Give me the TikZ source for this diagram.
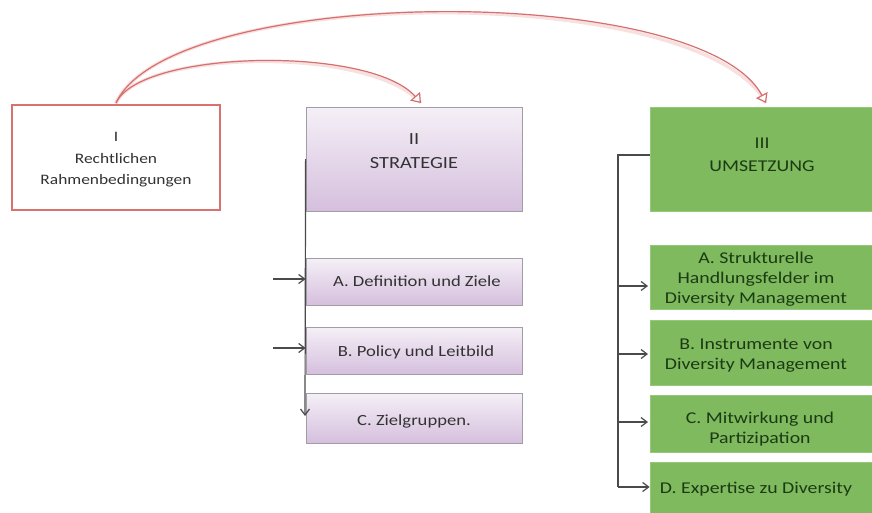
\documentclass[tikz,border=0pt]{standalone}
\usepackage{fontspec}
\setmainfont{Carlito}[FakeStretch=1.2]
\usetikzlibrary{arrows.meta}

\definecolor{linkred}{HTML}{D4706E}
\definecolor{linkglow}{HTML}{F9E0E0}
\definecolor{legalred}{HTML}{D9716F}
\definecolor{lilactop}{HTML}{F5F0F7}
\definecolor{lilacbot}{HTML}{D5BFDD}
\definecolor{lilacedge}{HTML}{A29CA6}
\definecolor{leafgreen}{HTML}{7FBA5E}
\definecolor{leafedge}{HTML}{95C878}
\definecolor{leaftext}{HTML}{1C3A14}
\definecolor{inkgray}{HTML}{333333}
\definecolor{wiregray}{HTML}{4A4A4A}

\tikzset{
  legalbox/.style={draw=legalred, line width=1.6pt, fill=white, inner sep=0pt},
  stratbox/.style={draw=lilacedge, line width=0.8pt, top color=lilactop,
    bottom color=lilacbot, inner sep=0pt},
  actbox/.style={draw=leafedge, line width=0.8pt, fill=leafgreen, inner sep=0pt},
  graytext/.style={text=inkgray, align=center, inner sep=0pt},
  greentext/.style={text=leaftext, align=center, inner sep=0pt},
  wire/.style={draw=wiregray, line width=1.2pt},
  wirearrow/.style={wire, -{Straight Barb[length=6pt,width=9pt]}},
  glow/.style={draw=linkglow, line width=3.5pt},
  link/.style={draw=linkred, line width=1.2pt},
  linktip/.style={-{Triangle[open,length=9pt,width=13pt,fill=white]}},
}

\begin{document}
\begin{tikzpicture}[x=1pt,y=-1pt]
\useasboundingbox (0,0) rectangle (872,512);
\fill[white] (0,0) rectangle (872,512);

% ---- I: legal framework
\node[legalbox, minimum width=208pt, minimum height=105pt] (legal) at (116,157.5) {};
\node[graytext, font=\fontsize{14.5}{21.5}\selectfont] (legaltxt) at (116,160)
  {I\\Rechtlichen\\Rahmenbedingungen};

% ---- II: strategy column
\node[stratbox, minimum width=216pt, minimum height=104pt] (strat) at (414,159) {};
\node[graytext, font=\fontsize{17}{24}\selectfont] (strattxt) at (414,151) {II\\STRATEGIE};

\node[stratbox, minimum width=216pt, minimum height=47pt] (sA) at (414,281.5) {};
\node[stratbox, minimum width=216pt, minimum height=47pt] (sB) at (414,350.5) {};
\node[stratbox, minimum width=216pt, minimum height=50pt] (sC) at (414,418) {};
\node[graytext, font=\fontsize{15.5}{20}\selectfont] (sAtxt) at (417,281) {A. Definition und Ziele};
\node[graytext, font=\fontsize{15.5}{20}\selectfont] (sBtxt) at (416,352) {B. Policy und Leitbild};
\node[graytext, font=\fontsize{15.5}{20}\selectfont] (sCtxt) at (414,421) {C. Zielgruppen.};

% ---- III: implementation column
\node[actbox, minimum width=224pt, minimum height=104pt] (act) at (762,159) {};
\node[greentext, font=\fontsize{16.5}{23}\selectfont] (acttxt) at (762,155) {III\\UMSETZUNG};

\node[actbox, minimum width=224pt, minimum height=64pt] (aA) at (762,277) {};
\node[actbox, minimum width=224pt, minimum height=65pt] (aB) at (762,352.5) {};
\node[actbox, minimum width=224pt, minimum height=57pt] (aC) at (762,423.5) {};
\node[actbox, minimum width=224pt, minimum height=56pt] (aD) at (762,490) {};
\node[greentext, font=\fontsize{16.5}{20}\selectfont] (aAtxt) at (756,279)
  {A. Strukturelle\\Handlungsfelder im\\Diversity Management};
\node[greentext, font=\fontsize{16.5}{20}\selectfont] (aBtxt) at (756,356)
  {B. Instrumente von\\Diversity Management};
\node[greentext, font=\fontsize{16.5}{20}\selectfont] (aCtxt) at (760,429)
  {C. Mitwirkung und\\Partizipation};
\node[greentext, font=\fontsize{16.5}{20}\selectfont] (aDtxt) at (756,489)
  {D. Expertise zu Diversity};

% ---- connectors of the strategy column
\coordinate (sdown) at (305,416);
\coordinate (sinA) at (273,279);
\coordinate (sinB) at (273,348);
\draw[wirearrow] (strat.west) -- (sdown);
\draw[wirearrow] (sinA) -- (sinA -| strat.west);
\draw[wirearrow] (sinB) -- (sinB -| strat.west);

% ---- connectors of the implementation column
\coordinate (aout) at (650,155);
\coordinate (atop) at (618,155);
\coordinate (abot) at (618,487);
\draw[wire] (aout) -- (atop) -- (abot);
\draw[wirearrow] (abot) -- (abot -| aD.west);
\draw[wirearrow] (618,286) -- (648,286);
\draw[wirearrow] (618,354) -- (648,354);
\draw[wirearrow] (618,422) -- (648,422);

% ---- curved links from I to II and III
\coordinate (lstart) at (116,103);
\coordinate (ltoII) at (421,103);
\coordinate (ltoIII) at (766,103);
\draw[glow] (lstart) .. controls (140,50) and (370,45) .. (ltoII);
\draw[glow] (lstart) .. controls (170,-15) and (700,-20) .. (ltoIII);
\draw[link, linktip] (lstart) .. controls (140,50) and (370,45) .. (ltoII);
\draw[link, linktip] (lstart) .. controls (170,-15) and (700,-20) .. (ltoIII);
\end{tikzpicture}
\end{document}
